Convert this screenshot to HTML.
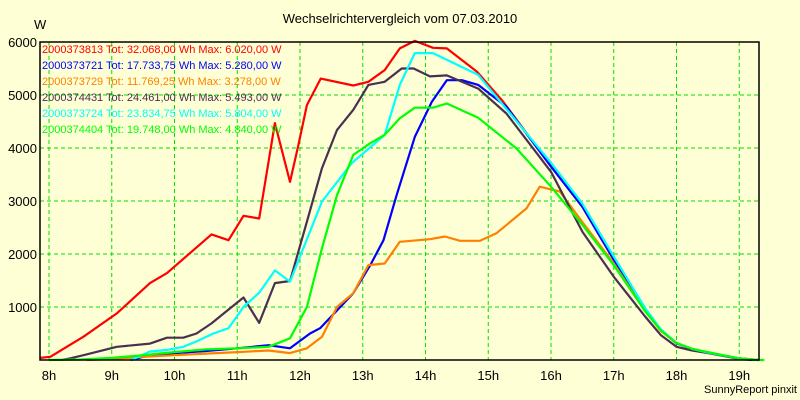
<!DOCTYPE html>
<html><head><meta charset="utf-8"><style>
body{margin:0;background:#ffffd5;}
svg{display:block;font-family:"Liberation Sans",sans-serif;}
</style></head><body>
<svg id="chart" width="800" height="400">
<rect x="0" y="0" width="800" height="400" fill="#ffffd5"/>
<text x="400" y="23" text-anchor="middle" font-size="13" fill="#000">Wechselrichtervergleich vom 07.03.2010</text>
<text x="34" y="29" font-size="13" fill="#000">W</text>
<g id="grid"></g><g id="series"></g><g id="axes"></g><g id="legend"></g>
<text x="797" y="393" text-anchor="end" font-size="11" fill="#000">SunnyReport pinxit</text>
</svg>
<script>
const xTicks=[8,9,10,11,12,13,14,15,16,17,18,19];
const yTicks=[1000,2000,3000,4000,5000,6000];
const seriesNames=["2000373813","2000373721","2000373729","2000374431","2000373724","2000374404"];
const seriesTotals=["32.068,00","17.733,75","11.769,25","24.461,00","23.834,75","19.748,00"];
const seriesMax=["6.020,00","5.280,00","3.278,00","5.493,00","5.804,00","4.840,00"];
const seriesColors=["#ff0000","#0000ff","#ff8000","#4a3050","#00ffff","#00ff00"];
const redT=[7.86,8.02,8.55,9.08,9.61,9.88,10.59,10.86,11.10,11.35,11.60,11.84,11.97,12.11,12.33,12.85,13.09,13.35,13.59,13.83,14.12,14.34,14.82,15.24,16.0,16.5,17.0,17.5,17.75,18.0,18.25,18.5,19.0,19.3];
const redV=[40,60,440,880,1450,1640,2370,2260,2720,2670,4470,3360,4030,4810,5310,5180,5250,5470,5880,6020,5890,5880,5440,4870,3660,2890,1890,940,560,315,210,140,30,0];
const blueT=[9.3,9.5,10.0,10.5,11.0,11.5,11.84,12.16,12.32,12.85,13.12,13.33,13.54,13.83,14.10,14.34,14.58,14.84,15.29,16.0,16.5,17.0,17.5,17.75,18.0,18.25,18.5,19.0,19.3];
const blueV=[0,60,130,170,220,280,220,500,600,1260,1790,2260,3110,4210,4870,5280,5280,5190,4780,3650,2890,1890,940,560,315,210,140,30,0];
const orangeT=[8.6,9.0,9.5,10.0,10.5,11.0,11.5,11.84,12.11,12.35,12.59,12.85,13.09,13.35,13.59,14.07,14.31,14.55,14.87,15.13,15.61,15.82,16.14,16.5,17.0,17.5,17.75,18.0,18.25,18.5,19.0,19.3];
const orangeV=[0,20,60,90,120,150,180,130,220,440,1000,1260,1790,1820,2230,2280,2330,2250,2250,2390,2860,3270,3180,2600,1820,930,550,320,210,140,30,0];
const darkT=[8.2,8.33,8.55,9.08,9.61,9.88,10.14,10.35,10.59,10.88,11.10,11.35,11.60,11.84,12.11,12.35,12.59,12.85,13.09,13.35,13.62,13.81,14.07,14.34,14.84,15.29,16.0,16.5,17.0,17.5,17.75,18.0,18.25,18.5,19.0,19.2];
const darkV=[0,30,90,250,310,420,420,500,690,970,1180,700,1450,1490,2610,3620,4340,4720,5190,5250,5500,5500,5350,5370,5120,4650,3550,2420,1570,820,470,250,180,130,20,0];
const cyanT=[9.3,9.37,9.61,9.88,10.14,10.35,10.62,10.86,11.10,11.35,11.60,11.84,12.35,12.82,13.35,13.59,13.83,14.12,14.84,16.0,16.5,17.0,17.5,17.75,18.0,18.25,18.5,19.0,19.3];
const cyanV=[0,30,160,190,250,350,500,600,1000,1270,1690,1480,2990,3710,4250,5190,5790,5790,5380,3720,2950,1950,980,580,320,210,140,30,0];
const greenT=[8.0,8.5,9.0,9.5,10.0,10.5,11.0,11.5,11.84,12.11,12.35,12.59,12.85,13.12,13.35,13.59,13.83,14.12,14.34,14.84,15.45,16.0,16.5,17.0,17.5,17.75,18.0,18.25,18.5,19.0,19.3,19.4];
const greenV=[0,10,40,90,150,200,220,250,410,1000,2110,3110,3870,4090,4250,4560,4760,4760,4840,4570,3990,3270,2550,1790,920,560,320,210,150,30,0,0];
const allT=[redT,blueT,orangeT,darkT,cyanT,greenT];
const allV=[redV,blueV,orangeV,darkV,cyanV,greenV];
const L=40,R=759,T=42,B=360;
const xs=t=>49+(t-8)*62.75;
const ys=v=>B-(v/6000)*(B-T);
const NS="http://www.w3.org/2000/svg";
function mk(tag,attrs,parent){const e=document.createElementNS(NS,tag);for(const k in attrs)e.setAttribute(k,attrs[k]);parent.appendChild(e);return e;}
const grid=document.getElementById('grid'),axes=document.getElementById('axes'),ser=document.getElementById('series'),leg=document.getElementById('legend');
xTicks.forEach(t=>{
 const l=mk('line',{x1:xs(t),x2:xs(t),y1:T,y2:B,stroke:'#00e000','stroke-dasharray':'4,3'},grid);
 
 
 const tx=mk('text',{x:xs(t),y:380,'text-anchor':'middle','font-size':13},axes);
 tx.textContent=t+'h';
 
 
});
yTicks.forEach(v=>{
 if(v<6000){const l=mk('line',{x1:L,x2:R,y1:ys(v),y2:ys(v),stroke:'#00e000','stroke-dasharray':'4,3'},grid);
 
 }
 const tx=mk('text',{x:37,y:ys(v)+5,'text-anchor':'end','font-size':13},axes);
 tx.textContent=v;
 
 
});
const frame=mk('rect',{x:L,y:T,width:R-L,height:B-T,fill:'none',stroke:'#000','stroke-width':1.5},axes);


allT.forEach((ts,i)=>{
 const pts=ts.map((t,j)=>xs(t).toFixed(1)+','+ys(allV[i][j]).toFixed(1)).join(' ');
 const p=mk('polyline',{points:pts,fill:'none',stroke:seriesColors[i],'stroke-width':2.2,'stroke-linejoin':'round'},ser);
 
 
});
seriesNames.forEach((n,i)=>{
 const tx=mk('text',{x:42,y:53+i*16,'font-size':11,fill:seriesColors[i]},leg);
 tx.textContent=n+' Tot: '+seriesTotals[i]+' Wh Max: '+seriesMax[i]+' W';
 
 
});
</script>
</body></html>
